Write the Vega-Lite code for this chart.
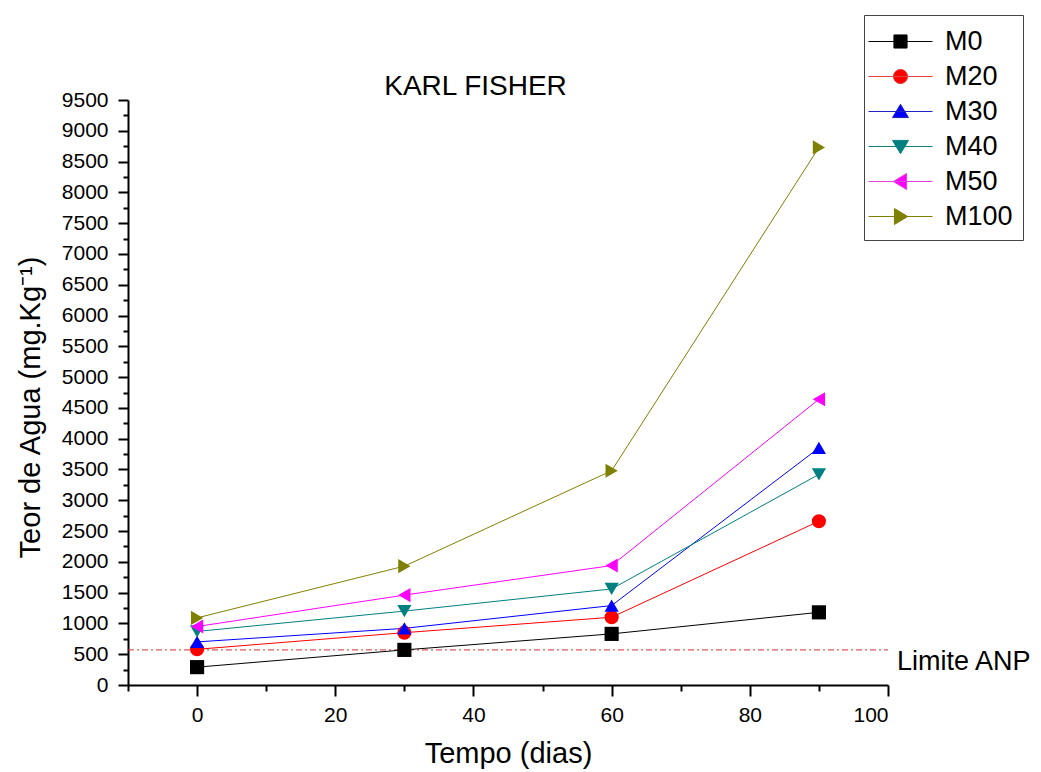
{
  "$schema": "https://vega.github.io/schema/vega-lite/v6.json",
  "width": 760,
  "height": 585,
  "autosize": {"type": "none"},
  "padding": {"left": 128, "top": 100, "right": 153, "bottom": 87},
  "background": "white",
  "config": {
    "view": {"stroke": null},
    "font": "Liberation Sans",
    "axis": {
      "domainColor": "black",
      "domainWidth": 2,
      "tickColor": "black",
      "tickWidth": 2,
      "labelColor": "black",
      "labelFont": "Liberation Sans",
      "labelFontSize": 21,
      "titleFont": "Liberation Sans",
      "titleFontSize": 29,
      "titleFontWeight": "normal",
      "titleColor": "black",
      "grid": false
    },
    "legend": {
      "orient": "none",
      "legendX": 736,
      "legendY": -85,
      "padding": 10,
      "strokeColor": "#444",
      "fillColor": "white",
      "labelFont": "Liberation Sans",
      "labelFontSize": 27,
      "labelColor": "black",
      "symbolSize": 1024,
      "symbolOffset": 10,
      "symbolOpacity": 1,
      "symbolStrokeWidth": 1,
      "labelOffset": 28,
      "rowPadding": 5
    }
  },
  "datasets": {
    "series": [
      {"serie": "M0", "t": 0, "v": 290},
      {"serie": "M0", "t": 30, "v": 570},
      {"serie": "M0", "t": 60, "v": 830},
      {"serie": "M0", "t": 90, "v": 1180},
      {"serie": "M20", "t": 0, "v": 580},
      {"serie": "M20", "t": 30, "v": 850},
      {"serie": "M20", "t": 60, "v": 1100},
      {"serie": "M20", "t": 90, "v": 2660},
      {"serie": "M30", "t": 0, "v": 700},
      {"serie": "M30", "t": 30, "v": 920},
      {"serie": "M30", "t": 60, "v": 1290},
      {"serie": "M30", "t": 90, "v": 3850},
      {"serie": "M40", "t": 0, "v": 870},
      {"serie": "M40", "t": 30, "v": 1200},
      {"serie": "M40", "t": 60, "v": 1560},
      {"serie": "M40", "t": 90, "v": 3420},
      {"serie": "M50", "t": 0, "v": 950},
      {"serie": "M50", "t": 30, "v": 1460},
      {"serie": "M50", "t": 60, "v": 1940},
      {"serie": "M50", "t": 90, "v": 4640},
      {"serie": "M100", "t": 0, "v": 1090},
      {"serie": "M100", "t": 30, "v": 1930},
      {"serie": "M100", "t": 60, "v": 3480},
      {"serie": "M100", "t": 90, "v": 8730}
    ],
    "limite": [
      {"label": "Limite ANP", "t": 100, "v": 570}
    ],
    "titulo": [
      {"label": "KARL FISHER", "t": 40.3, "v": 9500}
    ]
  },
  "encoding": {
    "x": {
      "field": "t",
      "type": "quantitative",
      "title": "Tempo (dias)",
      "scale": {"domain": [-10, 100], "nice": false, "zero": false},
      "axis": {
        "values": [-10, 0, 10, 20, 30, 40, 50, 60, 70, 80, 90, 100],
        "labelExpr": "datum.value % 20 === 0 ? datum.label : ''",
        "tickSize": {"condition": {"test": "datum.value % 20 === 0", "value": 11}, "value": 6},
        "labelPadding": 8,
        "titleY": 68,
        "titleBaseline": "middle"
      }
    },
    "y": {
      "field": "v",
      "type": "quantitative",
      "title": "Teor de Agua (mg.Kg⁻¹)",
      "scale": {"domain": [0, 9500], "nice": false},
      "axis": {
        "values": [0, 250, 500, 750, 1000, 1250, 1500, 1750, 2000, 2250, 2500, 2750, 3000, 3250, 3500, 3750, 4000, 4250, 4500, 4750, 5000, 5250, 5500, 5750, 6000, 6250, 6500, 6750, 7000, 7250, 7500, 7750, 8000, 8250, 8500, 8750, 9000, 9250, 9500],
        "labelExpr": "datum.value % 500 === 0 ? datum.label : ''",
        "format": "d",
        "tickSize": {"condition": {"test": "datum.value % 500 === 0", "value": 10}, "value": 5},
        "labelPadding": 10,
        "titleX": -98,
        "titleY": 307,
        "titleBaseline": "middle"
      }
    }
  },
  "layer": [
    {
      "data": {"name": "limite"},
      "mark": {"type": "rule", "color": "#d03030", "strokeWidth": 1, "strokeDash": [6, 3, 2, 3]},
      "encoding": {
        "x": {"datum": -10},
        "x2": {"datum": 100}
      }
    },
    {
      "data": {"name": "series"},
      "mark": {"type": "line", "strokeWidth": 1},
      "encoding": {
        "color": {
          "field": "serie",
          "type": "nominal",
          "title": null,
          "legend": null,
          "scale": {"domain": ["M0", "M20", "M30", "M40", "M50", "M100"], "range": ["#000000", "#ff0000", "#0000ff", "#008080", "#ff00ff", "#808000"]}
        },
        "detail": {"field": "serie"}
      }
    },
    {
      "data": {"name": "series"},
      "mark": {"type": "point", "filled": true, "opacity": 1, "size": 200},
      "encoding": {
        "color": {
          "field": "serie",
          "type": "nominal",
          "title": null,
          "legend": null,
          "scale": {"domain": ["M0", "M20", "M30", "M40", "M50", "M100"], "range": ["#000000", "#ff0000", "#0000ff", "#008080", "#ff00ff", "#808000"]}
        },
        "shape": {
          "field": "serie",
          "type": "nominal",
          "title": null,
          "legend": null,
          "scale": {"domain": ["M0", "M20", "M30", "M40", "M50", "M100"], "range": ["square", "circle", "triangle-up", "triangle-down", "triangle-left", "triangle-right"]}
        }
      }
    },
    {
      "data": {"name": "series"},
      "mark": {"type": "point", "filled": true, "opacity": 0, "strokeWidth": 1},
      "encoding": {
        "color": {
          "field": "serie",
          "type": "nominal",
          "title": null,
          "scale": {"domain": ["M0", "M20", "M30", "M40", "M50", "M100"], "range": ["#000000", "#ff0000", "#0000ff", "#008080", "#ff00ff", "#808000"]}
        },
        "stroke": {
          "field": "serie",
          "type": "nominal",
          "title": null,
          "scale": {"domain": ["M0", "M20", "M30", "M40", "M50", "M100"], "range": ["#000000", "#e04040", "#2020c0", "#108080", "#e040e0", "#808000"]}
        },
        "shape": {
          "field": "serie",
          "type": "nominal",
          "title": null,
          "scale": {"domain": ["M0", "M20", "M30", "M40", "M50", "M100"], "range": ["M-2,0H2M-0.41,-0.41H0.41V0.41H-0.41Z", "M-2,0H2M0.44,0A0.44,0.44,0,1,1,-0.44,0A0.44,0.44,0,1,1,0.44,0Z", "M-2,0H2M0,-0.45L0.5,0.38H-0.5Z", "M-2,0H2M0,0.45L0.5,-0.38H-0.5Z", "M-2,0H2M-0.45,0L0.38,-0.5V0.5Z", "M-2,0H2M0.45,0L-0.38,-0.5V0.5Z"]}
        }
      }
    },
    {
      "data": {"name": "limite"},
      "mark": {"type": "text", "align": "left", "baseline": "middle", "fontSize": 27, "font": "Liberation Sans", "color": "black", "dx": 9, "dy": 12},
      "encoding": {
        "text": {"field": "label"}
      }
    },
    {
      "data": {"name": "titulo"},
      "mark": {"type": "text", "align": "center", "baseline": "middle", "fontSize": 28, "font": "Liberation Sans", "color": "black", "dy": -13},
      "encoding": {
        "text": {"field": "label"}
      }
    }
  ],
  "resolve": {
    "scale": {"color": "independent", "shape": "independent", "stroke": "independent"}
  }
}
